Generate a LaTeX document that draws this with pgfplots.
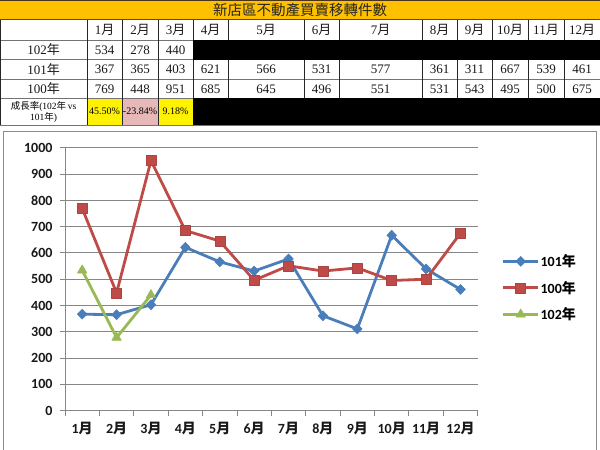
\documentclass[border=0pt]{standalone}
\usepackage{pgfplots}
\pgfplotsset{compat=1.18}
\usepackage{fontspec}
\setmainfont{Liberation Serif}
\newfontfamily\cjk{Noto Sans CJK TC}
\newfontfamily\chartfont{Carlito}
\newcommand\M{{\cjk 月}}
\newcommand\Y{{\cjk 年}}
\definecolor{titleorange}{HTML}{FFC000}
\definecolor{pinkcell}{HTML}{E6B8B7}
\definecolor{xlblue}{HTML}{4A7EBB}
\definecolor{xlred}{HTML}{BE4B48}
\definecolor{xlgreen}{HTML}{98B954}
\definecolor{xlgray}{HTML}{868686}
\begin{document}
\begin{tikzpicture}
\useasboundingbox (0,0) rectangle (600pt,-450pt);
\fill[white] (0,0) rectangle (600pt,-450pt);
% ---- table ----
\fill[titleorange] (0,0) rectangle (600pt,-19.5pt);
\draw[black!60!brown] (0,-0.5pt) -- (600pt,-0.5pt);
\draw[black!70] (0,-19.5pt) -- (600pt,-19.5pt);
\node[font=\cjk\fontsize{14.5}{15}\selectfont, text=black!85] at (300pt,-10pt) {新店區不動產買賣移轉件數};
\fill[yellow] (87pt,-98pt) rectangle (122pt,-125pt);
\fill[pinkcell] (122pt,-98pt) rectangle (158pt,-125pt);
\fill[yellow] (158pt,-98pt) rectangle (193pt,-125pt);
\foreach \y in {40,59.5,79,98,125}
  \draw[black!55] (0,-\y pt) -- (600pt,-\y pt);
\foreach \x in {0.5,87,122,158,193,228,304,339,422,457,492,528,564}
  \draw[black!85] (\x pt,-19.5pt) -- (\x pt,-98pt);
\foreach \x in {0.5,87,122,158,193}
  \draw[black!85] (\x pt,-98pt) -- (\x pt,-125pt);
\fill[black] (193pt,-40pt) rectangle (600pt,-59.5pt);
\fill[black] (193pt,-98pt) rectangle (600pt,-125pt);
\begin{scope}[every node/.style={font=\fontsize{13}{13}\selectfont, text=black!90, inner sep=0pt}]
\foreach \x/\t in {104.5/1,140/2,175.5/3,210.5/4,266/5,321.5/6,380.5/7,439.5/8,474.5/9,510/10,546/11,582/12}
  \node at (\x pt,-30pt) {\t\M};
\node at (43.5pt,-50pt) {102\Y};
\node at (43.5pt,-69.5pt) {101\Y};
\node at (43.5pt,-89pt) {100\Y};
\foreach \x/\t in {104.5/534,140/278,175.5/440}
  \node at (\x pt,-50pt) {\t};
\foreach \x/\t in {104.5/367,140/365,175.5/403,210.5/621,266/566,321.5/531,380.5/577,439.5/361,474.5/311,510/667,546/539,582/461}
  \node at (\x pt,-69.5pt) {\t};
\foreach \x/\t in {104.5/769,140/448,175.5/951,210.5/685,266/645,321.5/496,380.5/551,439.5/531,474.5/543,510/495,546/500,582/675}
  \node at (\x pt,-89pt) {\t};
\end{scope}
\node[font=\fontsize{9.5}{11}\selectfont, align=center, inner sep=0pt] at (43.5pt,-112pt) {{\cjk 成長率}(102\Y\,vs\\101\Y)};
\begin{scope}[every node/.style={font=\fontsize{10}{10}\selectfont, inner sep=0pt}]
\node at (104.5pt,-111.5pt) {45.50\%};
\node at (140pt,-111.5pt) {-23.84\%};
\node at (175.5pt,-111.5pt) {9.18\%};
\end{scope}
% ---- chart frame ----
\draw[black!45, fill=white] (3pt,-131.5pt) rectangle (596.5pt,-458pt);
\begin{axis}[
  at={(65pt,-410.7pt)}, anchor=south west,
  scale only axis, width=412.7pt, height=263pt,
  xmin=0.5, xmax=12.5, ymin=0, ymax=1000,
  axis x line*=bottom, axis y line*=left,
  axis line style={xlgray, line width=0.9pt},
  xtick={1,...,12},
  xticklabels={1\M,2\M,3\M,4\M,5\M,6\M,7\M,8\M,9\M,10\M,11\M,12\M},
  major x tick style={draw=none},
  minor xtick={0.5,1.5,...,12.5},
  minor tick length=5pt,
  minor x tick style={xlgray, line width=0.9pt},
  ytick={0,100,...,1000},
  major tick length=5pt,
  tick align=outside,
  major y tick style={xlgray, line width=0.9pt},
  ymajorgrids, grid style={xlgray, line width=0.9pt},
  /pgf/number format/assume math mode=true,
  /pgf/number format/1000 sep={},
  tick label style={font=\chartfont\bfseries\fontsize{14}{14}\selectfont, text=black!90},
  xticklabel style={yshift=-3pt},
  yticklabel style={xshift=-4pt},
  legend cell align=left,
  legend style={at={(1.058,0.467)}, anchor=west, draw=none, fill=none, inner sep=0pt,
    font=\chartfont\bfseries\fontsize{14}{14}\selectfont, row sep=9pt,
    nodes={inner xsep=1pt}},
  legend image code/.code={\draw[#1,mark repeat=2,mark phase=2] plot coordinates {(0pt,0pt)(17.5pt,0pt)(35pt,0pt)};},
  every axis plot/.append style={line width=2.8pt, line join=round},
]
\addplot[xlblue, mark=diamond*, mark size=5pt, mark options={xscale=1.3, line width=0.5pt}]
  coordinates {(1,367)(2,365)(3,403)(4,621)(5,566)(6,531)(7,577)(8,361)(9,311)(10,667)(11,539)(12,461)};
\addlegendentry{101\Y}
\addplot[xlred, mark=square*, mark size=5pt, mark options={line width=0.5pt, fill=xlred, draw=xlred!90!black}]
  coordinates {(1,769)(2,448)(3,951)(4,685)(5,645)(6,496)(7,551)(8,531)(9,543)(10,495)(11,500)(12,675)};
\addlegendentry{100\Y}
\addplot[xlgreen, mark=triangle*, mark size=5.5pt, mark options={line width=0.5pt}]
  coordinates {(1,534)(2,278)(3,440)};
\addlegendentry{102\Y}
\end{axis}
\end{tikzpicture}
\end{document}
